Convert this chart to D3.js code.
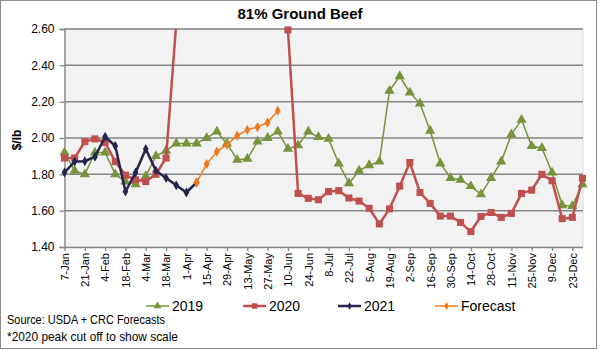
<!DOCTYPE html>
<html>
<head>
<meta charset="utf-8">
<script src="https://cdn.jsdelivr.net/npm/d3@7"></script>
<style>
  body { margin: 0; background: #fff; }
  text { font-family: Arial, "Liberation Sans", sans-serif; }
</style>
</head>
<body>
<div id="chart"></div>
<script>
const weeks = ["7-Jan","14-Jan","21-Jan","28-Jan","4-Feb","11-Feb","18-Feb","25-Feb","4-Mar","11-Mar",
  "18-Mar","25-Mar","1-Apr","8-Apr","15-Apr","22-Apr","29-Apr","6-May","13-May","20-May",
  "27-May","3-Jun","10-Jun","17-Jun","24-Jun","1-Jul","8-Jul","15-Jul","22-Jul","29-Jul",
  "5-Aug","12-Aug","19-Aug","26-Aug","2-Sep","9-Sep","16-Sep","23-Sep","30-Sep","7-Oct",
  "14-Oct","21-Oct","28-Oct","4-Nov","11-Nov","18-Nov","25-Nov","2-Dec","9-Dec","16-Dec",
  "23-Dec","30-Dec"];

const yTicks = [1.4, 1.6, 1.8, 2.0, 2.2, 2.4, 2.6];

const y2019 = [1.92,1.82,1.80,1.92,1.92,1.80,1.76,1.745,1.79,1.90,
  1.93,1.97,1.97,1.97,2.00,2.035,1.97,1.88,1.885,1.98,
  2.00,2.035,1.94,1.96,2.035,2.005,1.995,1.86,1.75,1.82,
  1.85,1.87,2.26,2.34,2.25,2.19,2.04,1.86,1.78,1.77,
  1.735,1.69,1.78,1.87,2.02,2.10,1.955,1.945,1.81,1.63,
  1.625,1.745];

// weeks 12-22 of 2020 run above the axis (peak cut off); those values are estimates
const y2020 = [1.89,1.89,1.98,1.995,1.975,1.87,1.795,1.77,1.76,1.80,
  1.89,2.63,2.95,3.10,3.30,3.60,4.10,4.60,4.90,4.70,
  4.00,3.20,2.595,1.695,1.668,1.66,1.705,1.71,1.67,1.653,
  1.613,1.527,1.61,1.735,1.865,1.70,1.64,1.57,1.57,1.535,
  1.485,1.568,1.59,1.563,1.585,1.695,1.713,1.80,1.765,1.556,
  1.563,1.778];

const y2021 = [1.81,1.87,1.872,1.897,2.007,1.956,1.705,1.81,1.94,1.82,
  1.78,1.74,1.70,1.755];

const forecastStart = 13;
const yForecast = [1.755,1.857,1.925,1.963,2.013,2.045,2.06,2.085,2.15];

const width = 600, height = 350;
const svg = d3.select("#chart").append("svg")
  .attr("width", width)
  .attr("height", height);

// outer border
svg.append("rect")
  .attr("x", 0.5).attr("y", 0.5)
  .attr("width", 596).attr("height", 348)
  .attr("fill", "#fff")
  .attr("stroke", "#8c8c8c");

const x = d3.scalePoint().domain(d3.range(weeks.length)).range([64.5, 582.5]);
const y = d3.scaleLinear().domain([1.4, 2.6]).range([247, 29]);

// plot area
svg.append("rect")
  .attr("x", 64.5).attr("y", 29)
  .attr("width", 518.5).attr("height", 218)
  .attr("fill", "#f2f2f2")
  .attr("stroke", "#d9d9d9");

svg.append("clipPath").attr("id", "plot-clip")
  .append("rect")
  .attr("x", 60).attr("y", 29)
  .attr("width", 530).attr("height", 220);

// gridlines
svg.append("g").selectAll("line")
  .data(yTicks.slice(1))
  .join("line")
  .attr("x1", 64.5).attr("x2", 583)
  .attr("y1", d => y(d)).attr("y2", d => y(d))
  .attr("stroke", "#858585")
  .attr("stroke-width", 1.5);

// y axis
const yAxis = svg.append("g")
  .attr("transform", "translate(64.5,0)")
  .call(d3.axisLeft(y).tickValues(yTicks).tickFormat(d3.format(".2f")).tickSize(5).tickPadding(5));
yAxis.select(".domain").attr("stroke", "#858585").attr("stroke-width", 1.3);
yAxis.selectAll(".tick line").attr("stroke", "#858585").attr("stroke-width", 1.3);
yAxis.selectAll("text").attr("font-size", 12).attr("fill", "#000")
  .attr("font-family", "Arial, 'Liberation Sans', sans-serif");

// x axis
const xAxis = svg.append("g")
  .attr("transform", "translate(0,247)")
  .call(d3.axisBottom(x)
    .tickValues(d3.range(0, weeks.length, 2))
    .tickFormat(i => weeks[i])
    .tickSize(4).tickSizeOuter(0));
xAxis.select(".domain").attr("stroke", "#858585").attr("stroke-width", 1.3);
xAxis.selectAll(".tick line").attr("stroke", "#858585").attr("stroke-width", 1.3);
xAxis.selectAll("text")
  .attr("font-size", 11).attr("fill", "#000")
  .attr("font-family", "Arial, 'Liberation Sans', sans-serif")
  .attr("text-anchor", "end")
  .attr("transform", "rotate(-90)")
  .attr("x", -6).attr("y", 0).attr("dy", "0.35em");

const series = [
  { name: "2019", color: "#77933c", width: 1.5, marker: d3.symbolTriangle, size: 45,
    pts: y2019.map((v, i) => [i, v]) },
  { name: "2020", color: "#c0504d", width: 2.5, marker: d3.symbolSquare, size: 50,
    pts: y2020.map((v, i) => [i, v]) },
  { name: "2021", color: "#25244f", width: 2.5, marker: d3.symbolDiamond, size: 28,
    pts: y2021.map((v, i) => [i, v]) },
  { name: "Forecast", color: "#ee7a1f", width: 1.5, marker: d3.symbolDiamond, size: 30,
    pts: yForecast.map((v, i) => [i + forecastStart, v]) }
];

const line = d3.line().x(d => x(d[0])).y(d => y(d[1]));

series.forEach(s => {
  svg.append("path")
    .datum(s.pts)
    .attr("clip-path", "url(#plot-clip)")
    .attr("fill", "none")
    .attr("stroke", s.color)
    .attr("stroke-width", s.width)
    .attr("stroke-linejoin", "round")
    .attr("d", line);

  svg.append("g").selectAll("path")
    .data(s.pts.filter(d => d[1] <= 2.6))
    .join("path")
    .attr("transform", d => `translate(${x(d[0])},${y(d[1])})`)
    .attr("d", d3.symbol(s.marker, s.size))
    .attr("fill", s.color);
});

// title and axis title
svg.append("text")
  .attr("x", 300).attr("y", 19)
  .attr("text-anchor", "middle")
  .attr("font-size", 15).attr("font-weight", "bold")
  .text("81% Ground Beef");

svg.append("text")
  .attr("transform", "translate(21,140) rotate(-90)")
  .attr("text-anchor", "middle")
  .attr("font-size", 12).attr("font-weight", "bold")
  .text("$/lb");

// legend
const legendX = [146, 243, 338, 435];
const legend = svg.append("g").selectAll("g")
  .data(series)
  .join("g")
  .attr("transform", (d, i) => `translate(${legendX[i]},306)`);
legend.append("line")
  .attr("x1", 0).attr("x2", 23)
  .attr("stroke", d => d.color)
  .attr("stroke-width", d => d.width);
legend.append("path")
  .attr("transform", "translate(11.5,0)")
  .attr("d", d => d3.symbol(d.marker, d.size * 0.6)())
  .attr("fill", d => d.color);
legend.append("text")
  .attr("x", 26).attr("y", 5)
  .attr("font-size", 14)
  .text(d => d.name);

// footnotes
svg.append("text")
  .attr("x", 7).attr("y", 324)
  .attr("font-size", 13)
  .attr("font-family", "Lato, 'Open Sans', sans-serif")
  .attr("textLength", 158).attr("lengthAdjust", "spacingAndGlyphs")
  .text("Source: USDA + CRC Forecasts");
svg.append("text")
  .attr("x", 7).attr("y", 341)
  .attr("font-size", 13)
  .attr("font-family", "Lato, 'Open Sans', sans-serif")
  .attr("textLength", 171).attr("lengthAdjust", "spacingAndGlyphs")
  .text("*2020 peak cut off to show scale");
</script>
</body>
</html>
